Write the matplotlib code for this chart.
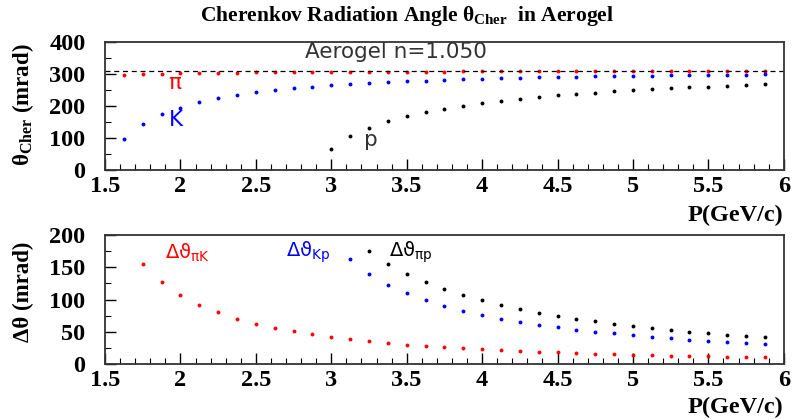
import matplotlib
matplotlib.use("Agg")
import matplotlib.pyplot as plt
from matplotlib.ticker import MultipleLocator, FuncFormatter

plt.rcParams['mathtext.fontset'] = 'custom'
plt.rcParams['mathtext.rm'] = 'Liberation Serif:bold'
plt.rcParams['mathtext.bf'] = 'Liberation Serif:bold'
plt.rcParams['mathtext.it'] = 'Liberation Serif:bold'
plt.rcParams['mathtext.sf'] = 'DejaVu Sans'

# ---- data (momentum in GeV/c, angles in mrad) ----
p_all = [1.625, 1.75, 1.875, 2.0, 2.125, 2.25, 2.375, 2.5, 2.625, 2.75, 2.875,
         3.0, 3.125, 3.25, 3.375, 3.5, 3.625, 3.75, 3.875, 4.0, 4.125, 4.25,
         4.375, 4.5, 4.625, 4.75, 4.875, 5.0, 5.125, 5.25, 5.375, 5.5, 5.625,
         5.75, 5.875]
theta_pi = [298.2, 299.8, 301.2, 302.3, 303.2, 303.9, 304.5, 305.0, 305.5, 305.9,
            306.2, 306.5, 306.8, 307.0, 307.2, 307.4, 307.6, 307.7, 307.9, 308.0,
            308.1, 308.2, 308.3, 308.4, 308.5, 308.5, 308.6, 308.7, 308.7, 308.8,
            308.8, 308.9, 308.9, 309.0, 309.0]
theta_K = [96.4, 144.7, 174.3, 195.4, 211.4, 223.9, 234.0, 242.4, 249.3, 255.2,
           260.3, 264.6, 268.4, 271.7, 274.7, 277.3, 279.6, 281.6, 283.5, 285.2,
           286.7, 288.1, 289.4, 290.5, 291.6, 292.6, 293.5, 294.3, 295.1, 295.8,
           296.4, 297.1, 297.6, 298.2, 298.7]
p_proton = [3.0, 3.125, 3.25, 3.375, 3.5, 3.625, 3.75, 3.875, 4.0, 4.125, 4.25,
            4.375, 4.5, 4.625, 4.75, 4.875, 5.0, 5.125, 5.25, 5.375, 5.5, 5.625,
            5.75, 5.875]
theta_p = [65.2, 106.0, 132.2, 151.8, 167.5, 180.4, 191.4, 200.8, 209.0, 216.2,
           222.7, 228.4, 233.5, 238.1, 242.3, 246.1, 249.6, 252.8, 255.7, 258.5,
           261.0, 263.3, 265.4, 267.4]

p_piK = p_all[1:]
d_piK = [155.1, 126.9, 106.9, 91.8, 80.0, 70.5, 62.6, 56.2, 50.7, 45.9, 41.9,
         38.4, 35.3, 32.5, 30.1, 28.0, 26.1, 24.4, 22.8, 21.4, 20.1, 18.9, 17.9,
         16.9, 15.9, 15.1, 14.4, 13.6, 13.0, 12.4, 11.8, 11.3, 10.8, 10.3]
p_Kp = p_proton[1:]
d_Kp = [162.4, 139.5, 122.9, 109.8, 99.2, 90.2, 82.7, 76.2, 70.5, 65.4, 61.0,
        57.0, 53.5, 50.3, 47.4, 44.7, 42.3, 40.1, 37.9, 36.1, 34.3, 32.8, 31.3]
p_pip = p_proton[2:]
d_pip = [174.8, 155.4, 139.9, 127.2, 116.3, 107.1, 99.0, 91.9, 85.5, 79.9, 74.9,
         70.4, 66.2, 62.5, 59.1, 55.9, 53.1, 50.3, 47.9, 45.6, 43.6, 41.6]
theta_max = 310.0

RED = '#ff0000'
BLUE = '#0000ff'
BLACK = '#000000'
serif = 'Liberation Serif'

fig = plt.figure(figsize=(7.92, 4.2), dpi=100)
ax1 = fig.add_axes([0.1326, 0.595, 0.857, 0.305])
ax2 = fig.add_axes([0.1326, 0.1333, 0.857, 0.307])

ms = 2.8
ax1.plot(p_all, theta_pi, 'o', color=RED, ms=ms, mew=0)
ax1.plot(p_all, theta_K, 'o', color=BLUE, ms=ms, mew=0)
ax1.plot(p_proton, theta_p, 'o', color=BLACK, ms=ms, mew=0)
ax1.axhline(theta_max, color='black', ls=(0, (4, 3)), lw=0.9)

ax2.plot(p_piK, d_piK, 'o', color=RED, ms=ms, mew=0)
ax2.plot(p_Kp, d_Kp, 'o', color=BLUE, ms=ms, mew=0)
ax2.plot(p_pip, d_pip, 'o', color=BLACK, ms=ms, mew=0)

fmt = FuncFormatter(lambda v, pos: '%g' % v)
for ax, ymax, ymaj, ymin in [(ax1, 400, 100, 50), (ax2, 200, 50, 25)]:
    ax.set_xlim(1.5, 6)
    ax.set_ylim(0, ymax)
    ax.xaxis.set_major_locator(MultipleLocator(0.5))
    ax.xaxis.set_minor_locator(MultipleLocator(0.1))
    ax.yaxis.set_major_locator(MultipleLocator(ymaj))
    ax.yaxis.set_minor_locator(MultipleLocator(ymin))
    ax.xaxis.set_major_formatter(fmt)
    ax.yaxis.set_major_formatter(fmt)
    ax.tick_params(which='both', direction='in', top=False, right=False)
    ax.tick_params(which='major', length=8, width=1.0)
    ax.tick_params(which='minor', length=4, width=0.8)
    ax.tick_params(axis='x', pad=4)
    ax.tick_params(axis='y', pad=14)
    for sp in ax.spines.values():
        sp.set_linewidth(1.3)
        sp.set_color('#333333')
    for lab in ax.get_xticklabels() + ax.get_yticklabels():
        lab.set_fontfamily(serif)
        lab.set_fontweight('bold')
        lab.set_fontsize(17.5)

fig.text(0.989, 0.486, 'P(GeV/c)', ha='right', va='center',
         fontfamily=serif, fontweight='bold', fontsize=17.5)
fig.text(0.989, 0.029, 'P(GeV/c)', ha='right', va='center',
         fontfamily=serif, fontweight='bold', fontsize=17.5)

fig.text(0.029, 0.75, r'$\mathrm{θ_{Cher}}$ (mrad)', rotation=90, ha='center',
         va='center', fontfamily=serif, fontweight='bold', fontsize=16.5)
fig.text(0.029, 0.305, 'Δθ (mrad)', rotation=90, ha='center', va='center',
         fontfamily=serif, fontweight='bold', fontsize=16.5)

fig.text(0.514, 0.962, r'Cherenkov Radiation Angle $\mathrm{θ_{Cher}}$  in Aerogel',
         ha='center', va='center', fontfamily=serif, fontweight='bold', fontsize=15.5)

ann = dict(fontfamily='DejaVu Sans', fontsize=15.5)
ax1.text(3.43, 370, 'Aerogel n=1.050', color='#333333', ha='center', va='center', **ann)
ax1.text(1.96, 272, 'π', color=RED, ha='center', va='center', **ann)
ax1.text(1.97, 155, 'K', color=BLUE, ha='center', va='center', **ann)
ax1.text(3.26, 93, 'p', color='#333333', ha='center', va='center', **ann)

ann2 = dict(fontfamily='DejaVu Sans', fontsize=14)
ax2.text(1.90, 173, r'$\mathsf{Δϑ_{πK}}$', color=RED, ha='left', va='center', **ann2)
ax2.text(2.70, 173, r'$\mathsf{Δϑ_{Kp}}$', color=BLUE, ha='left', va='center', **ann2)
ax2.text(3.38, 173, r'$\mathsf{Δϑ_{πp}}$', color=BLACK, ha='left', va='center', **ann2)

fig.savefig('out.png', dpi=100)
